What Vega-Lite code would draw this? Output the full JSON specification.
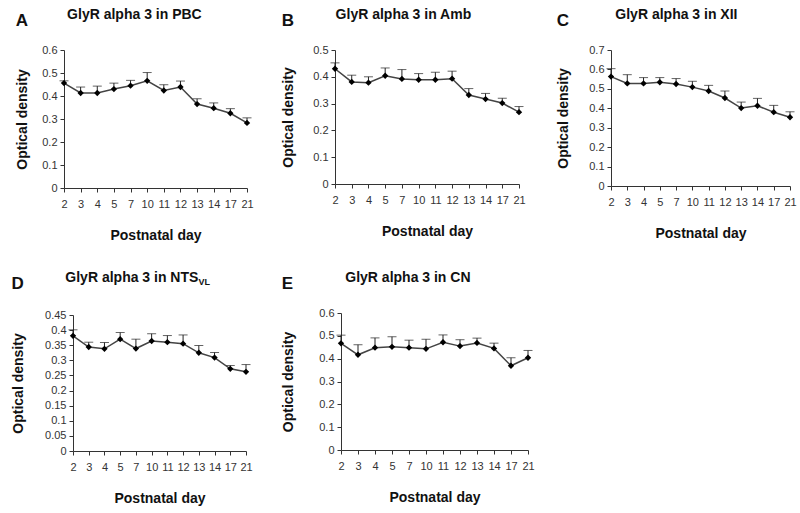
{
  "$schema": "https://vega.github.io/schema/vega-lite/v6.json",
  "background": "white",
  "padding": {"left": 11, "top": 8, "right": 2, "bottom": 5},
  "config": {
    "font": "Liberation Sans",
    "view": {"stroke": null},
    "axis": {
      "labelFont": "Liberation Sans", "labelFontSize": 11, "labelColor": "#333",
      "titleFont": "Liberation Sans", "titleFontSize": 14, "titleFontWeight": "bold", "titleColor": "#111",
      "domainColor": "#333", "tickColor": "#333", "tickSize": 4, "grid": false, "labelPadding": 3
    },
    "axisX": {"labelAngle": 0, "titlePadding": 19, "labelPadding": 6},
    "axisY": {"titlePadding": 12},
    "title": {"font": "Liberation Sans", "fontSize": 14, "fontWeight": "bold", "color": "#111", "anchor": "middle", "frame": "bounds", "offset": 22}
  },
  "datasets": {
    "pbc": [
      {"day": 2, "od": 0.456, "up": 0.466}, {"day": 3, "od": 0.413, "up": 0.439}, {"day": 4, "od": 0.413, "up": 0.443},
      {"day": 5, "od": 0.430, "up": 0.456}, {"day": 7, "od": 0.445, "up": 0.468}, {"day": 10, "od": 0.466, "up": 0.502},
      {"day": 11, "od": 0.424, "up": 0.449}, {"day": 12, "od": 0.439, "up": 0.465}, {"day": 13, "od": 0.365, "up": 0.388},
      {"day": 14, "od": 0.347, "up": 0.370}, {"day": 17, "od": 0.325, "up": 0.345}, {"day": 21, "od": 0.283, "up": 0.305}
    ],
    "amb": [
      {"day": 2, "od": 0.430, "up": 0.452}, {"day": 3, "od": 0.381, "up": 0.406}, {"day": 4, "od": 0.378, "up": 0.400},
      {"day": 5, "od": 0.404, "up": 0.433}, {"day": 7, "od": 0.392, "up": 0.427}, {"day": 10, "od": 0.389, "up": 0.412},
      {"day": 11, "od": 0.389, "up": 0.417}, {"day": 12, "od": 0.393, "up": 0.421}, {"day": 13, "od": 0.332, "up": 0.356},
      {"day": 14, "od": 0.317, "up": 0.338}, {"day": 17, "od": 0.302, "up": 0.320}, {"day": 21, "od": 0.268, "up": 0.289}
    ],
    "xii": [
      {"day": 2, "od": 0.563, "up": 0.604}, {"day": 3, "od": 0.528, "up": 0.573}, {"day": 4, "od": 0.528, "up": 0.558},
      {"day": 5, "od": 0.534, "up": 0.558}, {"day": 7, "od": 0.525, "up": 0.553}, {"day": 10, "od": 0.509, "up": 0.539},
      {"day": 11, "od": 0.489, "up": 0.518}, {"day": 12, "od": 0.453, "up": 0.489}, {"day": 13, "od": 0.401, "up": 0.432},
      {"day": 14, "od": 0.413, "up": 0.451}, {"day": 17, "od": 0.380, "up": 0.415}, {"day": 21, "od": 0.354, "up": 0.382}
    ],
    "nts": [
      {"day": 2, "od": 0.381, "up": 0.401}, {"day": 3, "od": 0.344, "up": 0.360}, {"day": 4, "od": 0.338, "up": 0.359},
      {"day": 5, "od": 0.370, "up": 0.392}, {"day": 7, "od": 0.339, "up": 0.370}, {"day": 10, "od": 0.364, "up": 0.388},
      {"day": 11, "od": 0.360, "up": 0.382}, {"day": 12, "od": 0.355, "up": 0.384}, {"day": 13, "od": 0.325, "up": 0.349},
      {"day": 14, "od": 0.309, "up": 0.326}, {"day": 17, "od": 0.272, "up": 0.283}, {"day": 21, "od": 0.262, "up": 0.286}
    ],
    "cn": [
      {"day": 2, "od": 0.467, "up": 0.503}, {"day": 3, "od": 0.417, "up": 0.461}, {"day": 4, "od": 0.448, "up": 0.491},
      {"day": 5, "od": 0.452, "up": 0.496}, {"day": 7, "od": 0.448, "up": 0.481}, {"day": 10, "od": 0.443, "up": 0.485},
      {"day": 11, "od": 0.472, "up": 0.504}, {"day": 12, "od": 0.455, "up": 0.483}, {"day": 13, "od": 0.469, "up": 0.490},
      {"day": 14, "od": 0.445, "up": 0.468}, {"day": 17, "od": 0.369, "up": 0.404}, {"day": 21, "od": 0.404, "up": 0.436}
    ]
  },
  "columns": 3,
  "align": "none",
  "spacing": {"row": 29, "column": 27},
  "concat": [
    {
      "title": {"text": "A", "anchor": "start", "fontSize": 17, "dy": 22, "offset": 0},
      "hconcat": [{
        "title": {"text": "GlyR alpha 3 in PBC"},
        "width": 183, "height": 138,
        "data": {"name": "pbc"},
        "encoding": {
          "x": {"field": "day", "type": "ordinal", "scale": {"type": "point", "padding": 0}, "title": "Postnatal day"},
          "y": {"field": "od", "type": "quantitative", "scale": {"domain": [0, 0.6], "nice": false}, "axis": {"values": [0, 0.1, 0.2, 0.3, 0.4, 0.5, 0.6], "format": ".2~f", "titlePadding": 12}, "title": "Optical density"}
        },
        "layer": [
          {"mark": {"type": "rule", "color": "#222", "strokeWidth": 1}, "encoding": {"y2": {"field": "up"}}},
          {"mark": {"type": "tick", "color": "#222", "thickness": 1, "size": 9}, "encoding": {"y": {"field": "up", "type": "quantitative"}}},
          {"mark": {"type": "line", "color": "#444", "strokeWidth": 1.5}},
          {"mark": {"type": "point", "shape": "diamond", "filled": true, "color": "#000", "opacity": 1, "size": 40}}
        ]
      }]
    },
    {
      "title": {"text": "B", "anchor": "start", "fontSize": 17, "dy": 22, "offset": 0},
      "hconcat": [{
        "title": {"text": "GlyR alpha 3 in Amb"},
        "width": 184, "height": 134,
        "data": {"name": "amb"},
        "encoding": {
          "x": {"field": "day", "type": "ordinal", "scale": {"type": "point", "padding": 0}, "title": "Postnatal day"},
          "y": {"field": "od", "type": "quantitative", "scale": {"domain": [0, 0.5], "nice": false}, "axis": {"values": [0, 0.1, 0.2, 0.3, 0.4, 0.5], "format": ".2~f", "titlePadding": 17}, "title": "Optical density"}
        },
        "layer": [
          {"mark": {"type": "rule", "color": "#222", "strokeWidth": 1}, "encoding": {"y2": {"field": "up"}}},
          {"mark": {"type": "tick", "color": "#222", "thickness": 1, "size": 9}, "encoding": {"y": {"field": "up", "type": "quantitative"}}},
          {"mark": {"type": "line", "color": "#444", "strokeWidth": 1.5}},
          {"mark": {"type": "point", "shape": "diamond", "filled": true, "color": "#000", "opacity": 1, "size": 40}}
        ]
      }]
    },
    {
      "title": {"text": "C", "anchor": "start", "fontSize": 17, "dy": 22, "offset": 0},
      "hconcat": [{
        "title": {"text": "GlyR alpha 3 in XII"},
        "width": 179, "height": 136,
        "data": {"name": "xii"},
        "encoding": {
          "x": {"field": "day", "type": "ordinal", "scale": {"type": "point", "padding": 0}, "title": "Postnatal day"},
          "y": {"field": "od", "type": "quantitative", "scale": {"domain": [0, 0.7], "nice": false}, "axis": {"values": [0, 0.1, 0.2, 0.3, 0.4, 0.5, 0.6, 0.7], "format": ".2~f", "titlePadding": 18}, "title": "Optical density"}
        },
        "layer": [
          {"mark": {"type": "rule", "color": "#222", "strokeWidth": 1}, "encoding": {"y2": {"field": "up"}}},
          {"mark": {"type": "tick", "color": "#222", "thickness": 1, "size": 9}, "encoding": {"y": {"field": "up", "type": "quantitative"}}},
          {"mark": {"type": "line", "color": "#444", "strokeWidth": 1.5}},
          {"mark": {"type": "point", "shape": "diamond", "filled": true, "color": "#000", "opacity": 1, "size": 40}}
        ]
      }]
    },
    {
      "title": {"text": "D", "anchor": "start", "fontSize": 17, "dy": 22, "offset": 0},
      "hconcat": [{
        "title": {"text": "GlyR alpha 3 in NTS", "subtitle": "\u200b\u00a0\u00a0\u00a0\u00a0\u00a0\u00a0\u00a0\u00a0\u00a0\u00a0\u00a0\u00a0\u00a0\u00a0\u00a0\u00a0\u00a0\u00a0\u00a0\u00a0\u00a0\u00a0\u00a0\u00a0\u00a0\u00a0\u00a0\u00a0\u00a0\u00a0\u00a0\u00a0\u00a0\u00a0\u00a0\u00a0\u00a0\u00a0\u00a0\u00a0\u00a0\u00a0\u00a0\u00a0\u00a0\u00a0\u00a0\u00a0\u00a0\u00a0\u00a0\u00a0\u00a0\u00a0\u00a0\u00a0\u00a0\u00a0VL", "subtitleFont": "Liberation Sans", "subtitleFontSize": 9, "subtitleFontWeight": "bold", "subtitleColor": "#111", "subtitlePadding": -7},
        "width": 182, "height": 136,
        "data": {"name": "nts"},
        "encoding": {
          "x": {"field": "day", "type": "ordinal", "scale": {"type": "point", "padding": 0, "range": [9, 182]}, "title": "Postnatal day"},
          "y": {"field": "od", "type": "quantitative", "scale": {"domain": [0, 0.45], "nice": false}, "axis": {"values": [0, 0.05, 0.1, 0.15, 0.2, 0.25, 0.3, 0.35, 0.4, 0.45], "format": ".2~f", "titlePadding": 19, "offset": -9}, "title": "Optical density"}
        },
        "layer": [
          {"mark": {"type": "rule", "color": "#222", "strokeWidth": 1}, "encoding": {"y2": {"field": "up"}}},
          {"mark": {"type": "tick", "color": "#222", "thickness": 1, "size": 9}, "encoding": {"y": {"field": "up", "type": "quantitative"}}},
          {"mark": {"type": "line", "color": "#444", "strokeWidth": 1.5}},
          {"mark": {"type": "point", "shape": "diamond", "filled": true, "color": "#000", "opacity": 1, "size": 40}}
        ]
      }]
    },
    {
      "title": {"text": "E", "anchor": "start", "fontSize": 17, "dy": 22, "offset": 0},
      "hconcat": [{
        "title": {"text": "GlyR alpha 3 in CN"},
        "width": 187, "height": 137,
        "data": {"name": "cn"},
        "encoding": {
          "x": {"field": "day", "type": "ordinal", "scale": {"type": "point", "padding": 0}, "title": "Postnatal day"},
          "y": {"field": "od", "type": "quantitative", "scale": {"domain": [0, 0.6], "nice": false}, "axis": {"values": [0, 0.1, 0.2, 0.3, 0.4, 0.5, 0.6], "format": ".2~f", "titlePadding": 23}, "title": "Optical density"}
        },
        "layer": [
          {"mark": {"type": "rule", "color": "#222", "strokeWidth": 1}, "encoding": {"y2": {"field": "up"}}},
          {"mark": {"type": "tick", "color": "#222", "thickness": 1, "size": 9}, "encoding": {"y": {"field": "up", "type": "quantitative"}}},
          {"mark": {"type": "line", "color": "#444", "strokeWidth": 1.5}},
          {"mark": {"type": "point", "shape": "diamond", "filled": true, "color": "#000", "opacity": 1, "size": 40}}
        ]
      }]
    }
  ]
}
